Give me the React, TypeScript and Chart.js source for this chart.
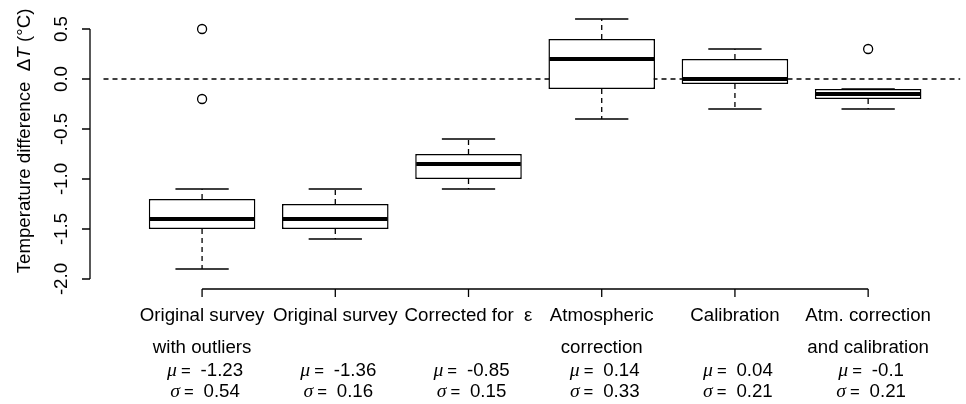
import React, { useEffect, useRef } from "react";
import { Chart, registerables } from "chart.js";

Chart.register(...registerables);

// ---- data ----
const categories: string[][] = [
  ["Original survey", "with outliers"],
  ["Original survey"],
  ["Corrected for  \u03B5"],
  ["Atmospheric", "correction"],
  ["Calibration"],
  ["Atm. correction", "and calibration"],
];
const whiskerLow = [-1.9, -1.6, -1.1, -0.4, -0.3, -0.3];
const lowerQuartile = [-1.5, -1.5, -1.0, -0.1, -0.05, -0.2];
const medians = [-1.4, -1.4, -0.85, 0.2, 0.0, -0.15];
const upperQuartile = [-1.2, -1.25, -0.75, 0.4, 0.2, -0.1];
const whiskerHigh = [-1.1, -1.1, -0.6, 0.6, 0.3, -0.1];
const outlierGroup = [1, 1, 6];
const outlierValue = [0.5, -0.2, 0.3];
const meanLabels = ["-1.23", "-1.36", "-0.85", "0.14", "0.04", "-0.1"];
const sdLabels = ["0.54", "0.16", "0.15", "0.33", "0.21", "0.21"];
const yTickValues = [0.5, 0.0, -0.5, -1.0, -1.5, -2.0];
const yTickLabels = ["0.5", "0.0", "-0.5", "-1.0", "-1.5", "-2.0"];

const FONT = '"Liberation Sans", Arial, sans-serif';
const GREEK = '"Liberation Serif", serif';
const FS = 18.7;
const LW = 1.3;

const boxPlugin = {
  id: "boxParts",
  beforeDatasetsDraw(chart: any) {
    const { ctx, chartArea, scales } = chart;
    const x = scales.x;
    const y = scales.y;
    ctx.save();
    ctx.strokeStyle = "#000";
    ctx.lineWidth = LW;
    ctx.setLineDash([5, 4]);
    const y0 = y.getPixelForValue(0);
    ctx.beginPath();
    ctx.moveTo(chartArea.left, y0);
    ctx.lineTo(chartArea.right, y0);
    ctx.stroke();
    const unit = x.getPixelForValue(2) - x.getPixelForValue(1);
    const capHalf = unit * 0.2;
    for (let i = 0; i < medians.length; i++) {
      const xc = x.getPixelForValue(i + 1);
      ctx.setLineDash([5, 4]);
      ctx.beginPath();
      ctx.moveTo(xc, y.getPixelForValue(upperQuartile[i]));
      ctx.lineTo(xc, y.getPixelForValue(whiskerHigh[i]));
      ctx.moveTo(xc, y.getPixelForValue(lowerQuartile[i]));
      ctx.lineTo(xc, y.getPixelForValue(whiskerLow[i]));
      ctx.stroke();
      ctx.setLineDash([]);
      ctx.beginPath();
      const yh = y.getPixelForValue(whiskerHigh[i]);
      const yl = y.getPixelForValue(whiskerLow[i]);
      ctx.moveTo(xc - capHalf, yh);
      ctx.lineTo(xc + capHalf, yh);
      ctx.moveTo(xc - capHalf, yl);
      ctx.lineTo(xc + capHalf, yl);
      ctx.stroke();
    }
    ctx.restore();
  },
  afterDatasetsDraw(chart: any) {
    const { ctx, scales } = chart;
    const x = scales.x;
    const y = scales.y;
    const unit = x.getPixelForValue(2) - x.getPixelForValue(1);
    const boxHalf = unit * 0.4;
    ctx.save();
    ctx.strokeStyle = "#000";
    ctx.fillStyle = "#000";
    // medians
    ctx.lineWidth = 4;
    for (let i = 0; i < medians.length; i++) {
      const xc = x.getPixelForValue(i + 1);
      const ym = y.getPixelForValue(medians[i]);
      ctx.beginPath();
      ctx.moveTo(xc - boxHalf + 1, ym);
      ctx.lineTo(xc + boxHalf - 1, ym);
      ctx.stroke();
    }
    // y axis
    ctx.lineWidth = LW;
    const axX = 90;
    const yTop = y.getPixelForValue(yTickValues[0]);
    const yBot = y.getPixelForValue(yTickValues[yTickValues.length - 1]);
    ctx.beginPath();
    ctx.moveTo(axX, yTop);
    ctx.lineTo(axX, yBot);
    for (const v of yTickValues) {
      const py = y.getPixelForValue(v);
      ctx.moveTo(axX, py);
      ctx.lineTo(axX - 8, py);
    }
    ctx.stroke();
    ctx.font = `${FS}px ${FONT}`;
    ctx.textAlign = "center";
    ctx.textBaseline = "alphabetic";
    yTickValues.forEach((v, k) => {
      const py = y.getPixelForValue(v);
      ctx.save();
      ctx.translate(67, py);
      ctx.rotate(-Math.PI / 2);
      ctx.fillText(yTickLabels[k], 0, 0);
      ctx.restore();
    });
    // y title
    ctx.save();
    ctx.translate(30, 141);
    ctx.rotate(-Math.PI / 2);
    const p1 = "Temperature difference  \u0394";
    const p2 = "T";
    const p3 = " (\u00B0C)";
    ctx.font = `${FS}px ${FONT}`;
    const w1 = ctx.measureText(p1).width;
    const w3 = ctx.measureText(p3).width;
    ctx.font = `italic ${FS}px ${FONT}`;
    const w2 = ctx.measureText(p2).width;
    const total = w1 + w2 + w3;
    let cx = -total / 2;
    ctx.textAlign = "left";
    ctx.font = `${FS}px ${FONT}`;
    ctx.fillText(p1, cx, 0);
    cx += w1;
    ctx.font = `italic ${FS}px ${FONT}`;
    ctx.fillText(p2, cx, 0);
    cx += w2;
    ctx.font = `${FS}px ${FONT}`;
    ctx.fillText(p3, cx, 0);
    ctx.restore();
    // x axis
    const axY = 289;
    const xFirst = x.getPixelForValue(1);
    const xLast = x.getPixelForValue(categories.length);
    ctx.beginPath();
    ctx.moveTo(xFirst, axY);
    ctx.lineTo(xLast, axY);
    for (let i = 0; i < categories.length; i++) {
      const xc = x.getPixelForValue(i + 1);
      ctx.moveTo(xc, axY);
      ctx.lineTo(xc, axY + 8);
    }
    ctx.stroke();
    ctx.textAlign = "center";
    for (let i = 0; i < categories.length; i++) {
      const xc = x.getPixelForValue(i + 1);
      ctx.font = `${FS}px ${FONT}`;
      categories[i].forEach((line, j) => {
        ctx.fillText(line, xc, 321 + j * 32);
      });
      const drawStat = (sym: string, val: string, base: number) => {
        const gap = 4;
        ctx.font = `italic ${FS + 1}px ${GREEK}`;
        const ws = ctx.measureText(sym).width;
        ctx.font = `${FS - 2}px ${FONT}`;
        const we = ctx.measureText("= ").width;
        ctx.font = `${FS}px ${FONT}`;
        const wv = ctx.measureText(" " + val).width;
        const tot = ws + gap + we + wv;
        let sx = xc + 3 - tot / 2;
        ctx.textAlign = "left";
        ctx.font = `italic ${FS + 1}px ${GREEK}`;
        ctx.fillText(sym, sx, base);
        sx += ws + gap;
        ctx.font = `${FS - 2}px ${FONT}`;
        ctx.fillText("=", sx, base);
        sx += we;
        ctx.font = `${FS}px ${FONT}`;
        ctx.fillText(" " + val, sx, base);
        ctx.textAlign = "center";
      };
      drawStat("\u03BC", meanLabels[i], 376);
      drawStat("\u03C3", sdLabels[i], 397);
    }
    ctx.restore();
  },
};

export default function App() {
  const ref = useRef<HTMLCanvasElement | null>(null);
  useEffect(() => {
    if (!ref.current) return;
    const boxData = lowerQuartile.map((lo, i) => ({ x: i + 1, y: [lo, upperQuartile[i]] }));
    const outlierData = outlierGroup.map((g, i) => ({ x: g, y: outlierValue[i] }));
    const chart = new Chart(ref.current, {
      type: "bar",
      data: {
        datasets: [
          {
            type: "bar",
            data: boxData as any,
            backgroundColor: "#ffffff",
            borderColor: "#000000",
            borderWidth: 1.5,
            borderSkipped: false,
            barPercentage: 0.8,
            categoryPercentage: 1,
          } as any,
          {
            type: "scatter",
            data: outlierData as any,
            pointStyle: "circle",
            pointRadius: 4.5,
            pointBackgroundColor: "#ffffff",
            pointBorderColor: "#000000",
            pointBorderWidth: 1.3,
          } as any,
        ],
      },
      options: {
        animation: false,
        responsive: false,
        devicePixelRatio: 1,
        layout: { padding: { left: 103.5, right: 0, top: 9, bottom: 125 } },
        plugins: { legend: { display: false }, tooltip: { enabled: false } },
        scales: {
          x: {
            type: "linear",
            min: 0.26,
            max: 6.691,
            offset: false,
            display: false,
            afterBuildTicks: (scale: any) => {
              scale.ticks = categories.map((_, i) => ({ value: i + 1 }));
            },
          },
          y: { type: "linear", min: -2.0, max: 0.7, display: false },
        },
      },
      plugins: [boxPlugin],
    });
    return () => chart.destroy();
  }, []);
  return (
    <div style={{ position: "absolute", left: 0, top: 0, width: 966, height: 404, background: "#fff" }}>
      <canvas ref={ref} width={966} height={404} />
    </div>
  );
}
